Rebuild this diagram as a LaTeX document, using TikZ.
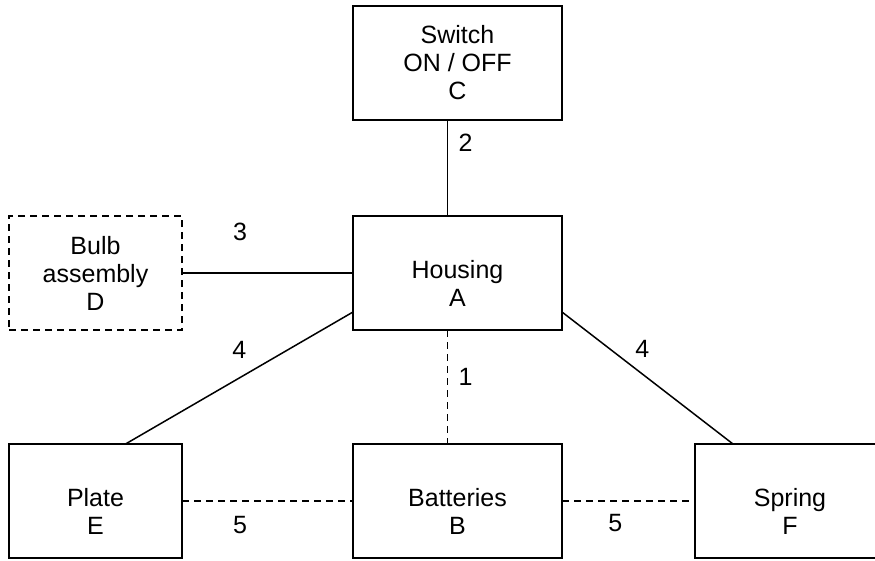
\documentclass[tikz,border=0pt]{standalone}
\usepackage{fontspec}
\setmainfont{Liberation Sans}
\usetikzlibrary{positioning}

\begin{document}
\begin{tikzpicture}[
    x=1pt, y=-1pt,
    font=\fontsize{25}{28}\selectfont,
    blk/.style={draw, line width=2pt, minimum width=209pt, minimum height=114pt, inner sep=0pt, outer sep=0pt, align=center},
    blkn/.style={blk, minimum width=173pt},
    blkd/.style={blkn, dash pattern=on 7pt off 5pt},
    lnk/.style={line width=1.5pt},
    lnkd/.style={lnk, dash pattern=on 7pt off 5pt},
    num/.style={inner sep=0pt}
  ]
    \useasboundingbox (0,0) rectangle (875,560);
    % blocks
    \node[blk] (A) at (457.5,273) {\mbox{}\\[10pt]Housing\\A};
    \node[blk, above=96pt of A] (C) {Switch\\ON / OFF\\C};
    \node[blkd, left=171pt of A] (D) {Bulb\\assembly\\D};
    \node[blk, below=114pt of A] (B) {\mbox{}\\[10pt]Batteries\\B};
    \node[blkn, left=171pt of B] (E) {\mbox{}\\[10pt]Plate\\E};
    \node[blk, right=133pt of B, minimum width=190pt] (F) {\mbox{}\\[10pt]Spring\\F};
    % links
    \draw[lnk] ([xshift=-10pt]C.south) -- ([xshift=-10pt]A.north) node[num, pos=0.24, xshift=18pt] {2};
    \draw[lnk] (D) -- (A) node[num, pos=0.34, yshift=41pt] {3};
    \draw[lnk] ([yshift=18pt]A.south west) -- ([xshift=30pt]E.north) node[num, midway, yshift=28pt] {4};
    \draw[lnk] ([yshift=18pt]A.south east) -- ([xshift=38pt]F.north west) node[num, pos=0.47, yshift=25pt] {4};
    \draw[lnkd] ([xshift=-10pt]A.south) -- ([xshift=-10pt]B.north) node[num, pos=0.41, xshift=18pt] {1};
    \draw[lnkd] (E) -- (B) node[num, pos=0.34, yshift=-24pt] {5};
    \draw[lnkd] (B) -- (F) node[num, pos=0.40, yshift=-22pt] {5};
\end{tikzpicture}
\end{document}
